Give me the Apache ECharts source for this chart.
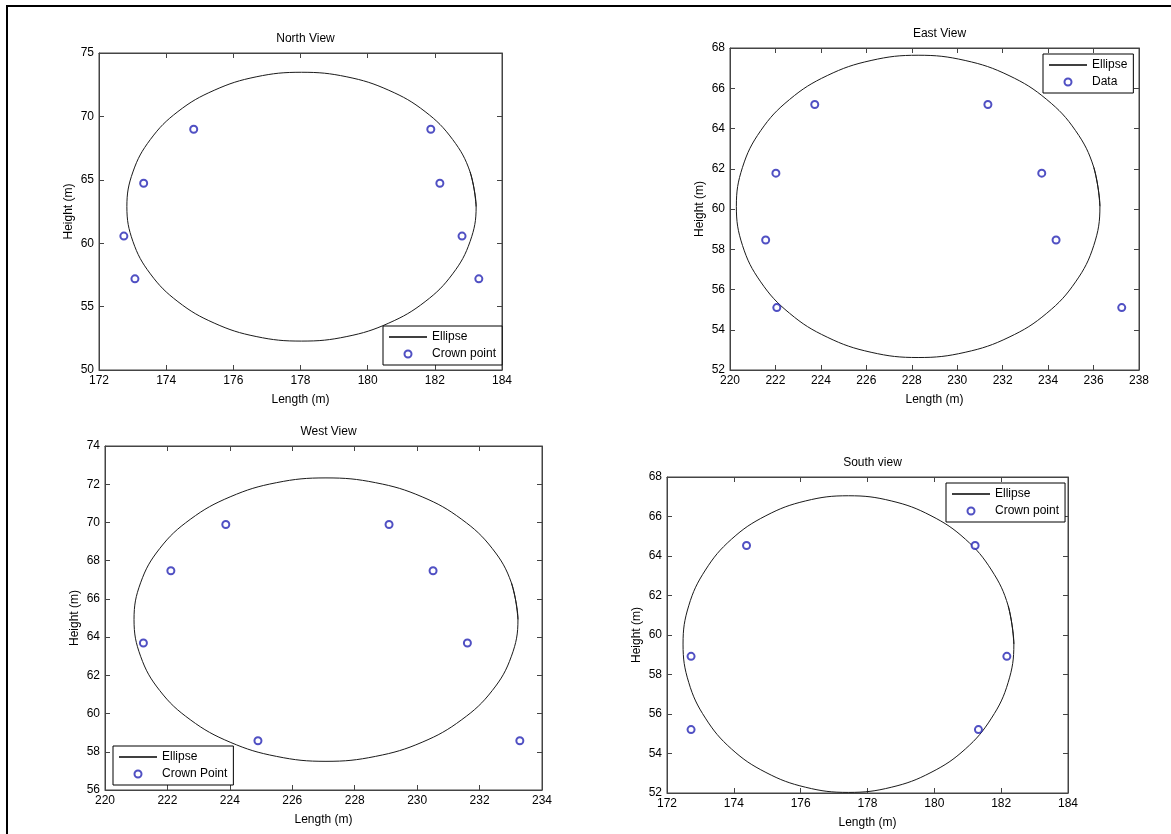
<!DOCTYPE html>
<html lang="en">
<head>
    <meta charset="UTF-8"/>
    <title>Crown ellipses</title>
    <script src="https://cdn.jsdelivr.net/npm/echarts@6/dist/echarts.min.js"></script>
    <style>
        html, body { margin: 0; padding: 0; background: #fff; }
    </style>
</head>
<body>
<div id="main" style="width: 1171px;height:834px;"></div>

<script type="text/javascript">
    // fitted ellipse outlines (one point every 15 degrees,
    // the first step repeated at the end so the loop closes smoothly)
    var northEllipseX = [183.23,183.05,182.53,181.71,180.63,179.38,178.03,176.68,175.43,174.35,173.53,173.01,172.83,173.01,173.53,174.35,175.43,176.68,178.03,179.38,180.63,181.71,182.53,183.05,183.23,183.05];
    var northEllipseY = [62.88,65.62,68.18,70.38,72.06,73.12,73.48,73.12,72.06,70.38,68.18,65.62,62.88,60.14,57.58,55.39,53.70,52.64,52.28,52.64,53.70,55.39,57.58,60.14,62.88,65.62];
    var eastEllipseX = [236.28,236.01,235.21,233.94,232.28,230.35,228.28,226.21,224.28,222.62,221.35,220.55,220.28,220.55,221.35,222.62,224.28,226.21,228.28,230.35,232.28,233.94,235.21,236.01,236.28,236.01];
    var eastEllipseY = [60.13,62.07,63.89,65.44,66.63,67.38,67.64,67.38,66.63,65.44,63.89,62.07,60.13,58.19,56.38,54.82,53.63,52.88,52.62,52.88,53.63,54.82,56.38,58.19,60.13,62.07];
    var westEllipseX = [233.23,233.02,232.41,231.43,230.16,228.67,227.08,225.49,224.01,222.73,221.75,221.14,220.93,221.14,221.75,222.73,224.01,225.49,227.08,228.67,230.16,231.43,232.41,233.02,233.23,233.02];
    var westEllipseY = [64.92,66.84,68.63,70.16,71.34,72.08,72.33,72.08,71.34,70.16,68.63,66.84,64.92,63.00,61.21,59.68,58.50,57.76,57.50,57.76,58.50,59.68,61.21,63.00,64.92,66.84];
    var southEllipseX = [182.38,182.21,181.71,180.93,179.90,178.71,177.43,176.15,174.96,173.93,173.15,172.65,172.48,172.65,173.15,173.93,174.96,176.15,177.43,178.71,179.90,180.93,181.71,182.21,182.38,182.21];
    var southEllipseY = [59.54,61.48,63.29,64.85,66.04,66.79,67.05,66.79,66.04,64.85,63.29,61.48,59.54,57.60,55.79,54.23,53.04,52.29,52.03,52.29,53.04,54.23,55.79,57.60,59.54,61.48];

    // crown points
    var northX = [174.82,181.88,173.33,182.15,172.74,182.81,173.07,183.31];
    var northY = [68.99,68.99,64.73,64.73,60.56,60.56,57.19,57.19];
    var eastX = [223.73,231.35,222.02,233.72,221.57,234.35,222.06,237.24];
    var eastY = [65.19,65.19,61.78,61.78,58.46,58.46,55.10,55.10];
    var westX = [223.87,229.10,222.11,230.51,221.23,231.61,224.90,233.29];
    var westY = [69.89,69.89,67.47,67.47,63.69,63.69,58.58,58.58];
    var southX = [174.38,181.22,172.72,182.17,172.72,181.32];
    var southY = [64.53,64.53,58.92,58.92,55.21,55.21];

    // axis ranges [min, max, interval]
    var northXRange = [172, 184, 2], northYRange = [50, 75, 5];
    var eastXRange = [220, 238, 2], eastYRange = [52, 68, 2];
    var westXRange = [220, 234, 2], westYRange = [56, 74, 2];
    var southXRange = [172, 184, 2], southYRange = [52, 68, 2];

    var titles = ['North View', 'East View', 'West View', 'South view'];
    var pointNames = ['Crown point', 'Data', 'Crown Point', 'Crown point'];

    var font = 'Liberation Sans, Arial, sans-serif';
    var axisColor = '#444';
    var markColor = '#2424b4';
    var lineColor = '#1a1a1a';

    var panels = [
        {grid: {left: 99, top: 53, width: 403, height: 317}, legend: {left: 383, top: 326},
            ex: northEllipseX, ey: northEllipseY, px: northX, py: northY, xr: northXRange, yr: northYRange},
        {grid: {left: 730, top: 48, width: 409, height: 322}, legend: {left: 1043, top: 54},
            ex: eastEllipseX, ey: eastEllipseY, px: eastX, py: eastY, xr: eastXRange, yr: eastYRange},
        {grid: {left: 105, top: 446, width: 437, height: 344}, legend: {left: 113, top: 746},
            ex: westEllipseX, ey: westEllipseY, px: westX, py: westY, xr: westXRange, yr: westYRange},
        {grid: {left: 667, top: 477, width: 401, height: 316}, legend: {left: 946, top: 483},
            ex: southEllipseX, ey: southEllipseY, px: southX, py: southY, xr: southXRange, yr: southYRange}
    ];

    function zip(a, b) {
        var out = [];
        for (var i = 0; i < a.length; i++) out.push([a[i], b[i]]);
        return out;
    }

    function axis(range, pos, gridIndex, labels, name) {
        return {
            type: 'value', gridIndex: gridIndex, position: pos,
            min: range[0], max: range[1], interval: range[2],
            name: labels ? name : '', nameLocation: 'middle', nameGap: 24,
            nameTextStyle: {color: '#000', fontSize: 12, fontFamily: font},
            axisLine: {show: true, lineStyle: {color: axisColor, width: 1}},
            axisTick: {show: true, inside: true, length: 5, lineStyle: {color: axisColor}},
            axisLabel: {show: labels, color: '#000', fontSize: 12, fontFamily: font, margin: 5},
            splitLine: {show: false}
        };
    }

    var option = {
        animation: false,
        backgroundColor: '#fff',
        title: [], grid: [], xAxis: [], yAxis: [], legend: [], series: [],
        graphic: [
            // frame round the picture (top and left edges only)
            {type: 'line', shape: {x1: 6, y1: 6, x2: 1171, y2: 6}, style: {stroke: '#000', lineWidth: 2}},
            {type: 'line', shape: {x1: 7, y1: 6, x2: 7, y2: 834}, style: {stroke: '#000', lineWidth: 2}}
        ]
    };

    panels.forEach(function (p, i) {
        option.grid.push({left: p.grid.left, top: p.grid.top, width: p.grid.width, height: p.grid.height,
            show: true, borderColor: axisColor, borderWidth: 1, backgroundColor: '#fff'});
        option.title.push({
            text: titles[i], left: p.grid.left + p.grid.width / 2, top: p.grid.top - 25, textAlign: 'center',
            textStyle: {fontSize: 12, fontWeight: 'normal', color: '#000', fontFamily: font}
        });
        option.xAxis.push(axis(p.xr, 'bottom', i, true, 'Length (m)'));
        option.xAxis.push(axis(p.xr, 'top', i, false, ''));
        option.yAxis.push(axis(p.yr, 'left', i, true, 'Height (m)'));
        option.yAxis.push(axis(p.yr, 'right', i, false, ''));
        option.legend.push({
            left: p.legend.left, top: p.legend.top, orient: 'vertical',
            data: [
                {name: 'Ellipse', icon: 'path://M0,0 L40,0 L40,1.4 L0,1.4 Z'},
                {name: pointNames[i], icon: 'emptyCircle'}
            ],
            backgroundColor: '#fff', borderColor: '#000', borderWidth: 1, borderRadius: 0,
            padding: [5, 6, 5, 6], itemGap: 5, itemWidth: 38, itemHeight: 7,
            selectedMode: false,
            textStyle: {fontSize: 12, color: '#000', fontFamily: font}
        });
        option.series.push({
            name: 'Ellipse', type: 'line', xAxisIndex: i * 2, yAxisIndex: i * 2,
            data: zip(p.ex, p.ey), smooth: 0.4, symbol: 'none', showSymbol: false,
            lineStyle: {color: lineColor, width: 1}, itemStyle: {color: '#000'}, z: 2
        });
        option.series.push({
            name: pointNames[i], type: 'scatter', xAxisIndex: i * 2, yAxisIndex: i * 2,
            data: zip(p.px, p.py), symbol: 'emptyCircle', symbolSize: 7,
            itemStyle: {color: markColor, borderColor: markColor, borderWidth: 1}, z: 3
        });
    });

    var myChart = echarts.init(document.getElementById('main'));
    myChart.setOption(option);
</script>
</body>
</html>
